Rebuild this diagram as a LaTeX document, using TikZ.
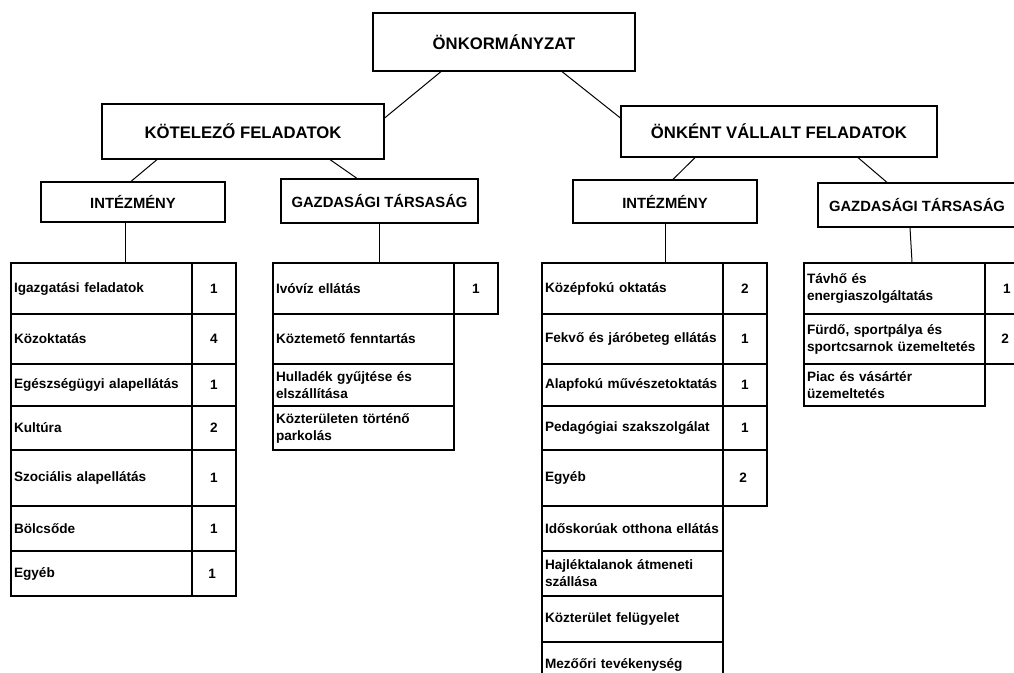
\documentclass[tikz,border=0pt]{standalone}
\usepackage{fontspec}
\setmainfont{Liberation Sans}
\usepackage{tikz}

\tikzset{
	headbox/.style={draw, line width=1.2pt, inner sep=0pt, font=\bfseries\fontsize{16.7}{20}\selectfont},
	subbox/.style={draw, line width=1.2pt, inner sep=0pt, font=\bfseries\fontsize{14.8}{18}\selectfont},
	cell/.style={draw, line width=2pt, anchor=north west, minimum width=181pt, text width=175pt, inner xsep=3pt, inner ysep=0pt, align=left, font=\bfseries\fontsize{13.6}{17}\selectfont},
	numcell/.style={draw, line width=2pt, anchor=north west, minimum width=44pt, inner sep=0pt, align=center, font=\bfseries\fontsize{13.6}{17}\selectfont},
	link/.style={line width=1pt}
}

\begin{document}
\begin{tikzpicture}[x=1pt,y=-1pt]
			\useasboundingbox (0,0) rectangle (1014,672);
			\clip (0,0) rectangle (1014,672);
			\fill[white] (0,0) rectangle (1014,672);
			\node[headbox, minimum width=262pt, minimum height=58pt] (onk) at (504,42) {ÖNKORMÁNYZAT};
			\node[headbox, minimum width=282pt, minimum height=55pt] (kot) at (243,131.5) {KÖTELEZŐ FELADATOK};
			\node[headbox, minimum width=316pt, minimum height=51pt] (vall) at (779,131.5) {ÖNKÉNT VÁLLALT FELADATOK};
			\node[subbox, minimum width=184pt, minimum height=40pt] (int1) at (133,202) {INTÉZMÉNY};
			\node[subbox, minimum width=197pt, minimum height=44pt] (gt1) at (379.5,201) {GAZDASÁGI TÁRSASÁG};
			\node[subbox, minimum width=184pt, minimum height=43pt] (int2) at (665,201.5) {INTÉZMÉNY};
			\node[subbox, minimum width=198pt, minimum height=44pt] (gt2) at (917,205) {GAZDASÁGI TÁRSASÁG};
			\foreach \y / \h / \txt / \num [count=\i] in { 262/51/{Igazgatási feladatok}/1, 313/50/{Közoktatás}/4, 363/42/{Egészségügyi alapellátás}/1, 405/44/{Kultúra}/2, 449/56/{Szociális alapellátás}/1, 505/45/{Bölcsőde}/1, 550/45/{Egyéb}/1 }
			{
			\node[cell, minimum height=\h pt] (a\i) at (10,\y) {\txt};
			\node[numcell, minimum height=\h pt] (an\i) at (191,\y) {\num};
			}
			\foreach \y / \h / \txt [count=\i] in { 262/51/{Ivóvíz ellátás}, 313/50/{Köztemető fenntartás}, 363/42/{Hulladék gyűjtése és\\elszállítása}, 405/44/{Közterületen történő\\parkolás} }
			\node[cell, minimum height=\h pt] (b\i) at (272,\y) {\txt};
			\node[numcell, minimum height=51pt] (bn1) at (453,262) {1};
			\foreach \y / \h / \txt [count=\i] in { 262/51/{Középfokú oktatás}, 313/50/{Fekvő és járóbeteg ellátás}, 363/42/{Alapfokú művészetoktatás}, 405/44/{Pedagógiai szakszolgálat}, 449/56/{Egyéb}, 505/45/{Időskorúak otthona ellátás}, 550/45/{Hajléktalanok átmeneti\\szállása}, 595/46/{Közterület felügyelet}, 641/46/{Mezőőri tevékenység} }
			\node[cell, minimum height=\h pt] (c\i) at (541,\y) {\txt};
			\foreach \y / \h / \num [count=\i] in { 262/51/2, 313/50/1, 363/42/1, 405/44/1, 449/56/2 }
			\node[numcell, minimum height=\h pt] (cn\i) at (722,\y) {\num};
			\foreach \y / \h / \txt [count=\i] in { 262/51/{Távhő és\\energiaszolgáltatás}, 313/50/{Fürdő, sportpálya és\\sportcsarnok üzemeltetés}, 363/42/{Piac és vásártér\\üzemeltetés} }
			\node[cell, minimum height=\h pt] (d\i) at (803,\y) {\txt};
			\foreach \y / \h / \num [count=\i] in { 262/51/1, 313/50/2 }
			\node[numcell, minimum height=\h pt] (dn\i) at (984,\y) {\num};
			\draw[link] ([xshift=-63pt]onk.south) -- ([yshift=13.5pt]kot.east);
			\draw[link] ([xshift=58pt]onk.south) -- ([yshift=13.5pt]vall.west);
			\draw[link] ([xshift=-86pt]kot.south) -- ([xshift=-2pt]int1.north);
			\draw[link] ([xshift=87pt]kot.south) -- ([xshift=-22.5pt]gt1.north);
			\draw[link] ([xshift=-84pt]vall.south) -- ([xshift=8pt]int2.north);
			\draw[link] ([xshift=79pt]vall.south) -- ([xshift=-30pt]gt2.north);
			\draw[link] ([xshift=-8pt]int1.south) -- ([xshift=-8pt]int1.south |- a1.north);
			\draw[link] (gt1.south) -- (gt1.south |- b1.north);
			\draw[link] (int2.south) -- (int2.south |- c1.north);
			\draw[link] ([xshift=-7pt]gt2.south) -- ([xshift=-5pt]gt2.south |- d1.north);
	\end{tikzpicture}
\end{document}
